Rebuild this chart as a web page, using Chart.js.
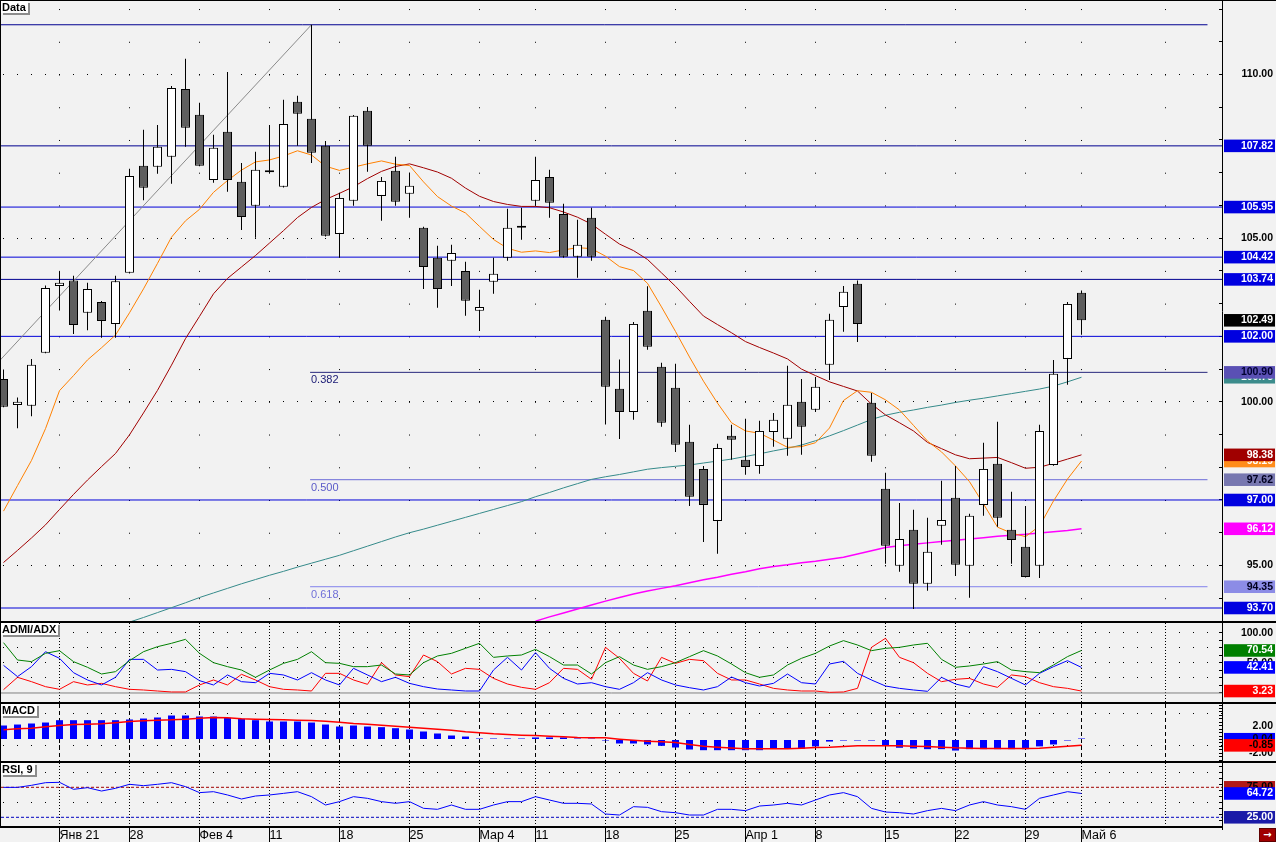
<!DOCTYPE html>
<html lang="ru">
<head>
<meta charset="utf-8">
<title>Data</title>
<script src="https://cdn.jsdelivr.net/npm/chart.js@4.4.1/dist/chart.umd.min.js"></script>
<style>
html,body{margin:0;padding:0;}
body{width:1276px;height:842px;background:#f2f2f2;position:relative;overflow:hidden;font-family:"Liberation Sans",Arial,sans-serif;}
canvas.pane{position:absolute;left:0;}
.hl{position:absolute;background:#000;}
.title{position:absolute;background:#fff;color:#000;font:bold 11px "Liberation Sans",Arial,sans-serif;line-height:12px;height:12px;padding:0 2px 0 1px;box-shadow:2px 2px 0 #8c8c8c;white-space:nowrap;}
.icon{position:absolute;left:1259px;top:828px;width:15px;height:12px;background:#a00000;border:1px solid #600000;color:#fff;font:bold 10px "DejaVu Sans",sans-serif;line-height:12px;text-align:center;}
</style>
</head>
<body>
<canvas id="cMain" class="pane" width="1276" height="622" style="top:0"></canvas>
<canvas id="cAdx" class="pane" width="1276" height="81" style="top:622px"></canvas>
<canvas id="cMacd" class="pane" width="1276" height="59" style="top:703px"></canvas>
<canvas id="cRsi" class="pane" width="1276" height="80" style="top:762px"></canvas>
<div class="hl" style="left:0;top:0;width:1276px;height:1px"></div>
<div class="hl" style="left:0;top:0;width:1px;height:828px"></div>
<div class="hl" style="left:0;top:621px;width:1276px;height:2px"></div>
<div class="hl" style="left:0;top:702px;width:1276px;height:2px"></div>
<div class="hl" style="left:0;top:761px;width:1276px;height:2px"></div>
<div class="hl" style="left:0;top:826px;width:1223px;height:2px"></div>
<div class="hl" style="left:1222px;top:826px;width:1px;height:4px"></div>
<div class="title" style="left:1px;top:1px">Data</div>
<div class="title" style="left:1px;top:623px">ADMI/ADX</div>
<div class="title" style="left:1px;top:704px">MACD</div>
<div class="title" style="left:1px;top:763px">RSI, 9</div>
<div class="icon">&#8594;</div>
<script>
// ---------------- data ----------------
const dates = [
'2013-01-15','2013-01-16','2013-01-17','2013-01-18','2013-01-21','2013-01-22','2013-01-23','2013-01-24','2013-01-25',
'2013-01-28','2013-01-29','2013-01-30','2013-01-31','2013-02-01',
'2013-02-04','2013-02-05','2013-02-06','2013-02-07','2013-02-08',
'2013-02-11','2013-02-12','2013-02-13','2013-02-14','2013-02-15',
'2013-02-18','2013-02-19','2013-02-20','2013-02-21','2013-02-22',
'2013-02-25','2013-02-26','2013-02-27','2013-02-28','2013-03-01',
'2013-03-04','2013-03-05','2013-03-06','2013-03-07',
'2013-03-11','2013-03-12','2013-03-13','2013-03-14','2013-03-15',
'2013-03-18','2013-03-19','2013-03-20','2013-03-21','2013-03-22',
'2013-03-25','2013-03-26','2013-03-27','2013-03-28','2013-03-29',
'2013-04-01','2013-04-02','2013-04-03','2013-04-04','2013-04-05',
'2013-04-08','2013-04-09','2013-04-10','2013-04-11','2013-04-12',
'2013-04-15','2013-04-16','2013-04-17','2013-04-18','2013-04-19',
'2013-04-22','2013-04-23','2013-04-24','2013-04-25','2013-04-26',
'2013-04-29','2013-04-30','2013-05-02','2013-05-03',
'2013-05-06'];

const open = [
100.70,99.90,99.88,101.50,103.54,103.71,102.72,103.05,102.38,103.94,
107.21,107.18,107.49,109.56,108.77,106.78,108.25,106.72,105.99,107.03,
106.57,109.17,108.65,107.82,105.13,106.14,108.89,106.29,107.06,106.36,
105.32,104.40,104.31,104.00,102.78,103.67,104.40,105.34,106.14,106.87,
105.74,104.43,105.62,102.51,100.40,99.69,102.78,101.07,100.43,98.78,
97.95,96.36,98.96,98.23,98.04,99.08,98.87,100.00,99.76,101.13,
102.90,103.61,99.97,97.34,94.99,96.09,94.44,96.21,97.07,94.99,
96.85,98.11,96.09,95.57,94.99,98.07,101.31,103.33];
const high = [
100.99,100.13,101.31,103.55,103.98,103.85,103.64,103.08,103.85,107.12,
108.31,108.46,109.65,110.48,109.14,108.16,110.08,107.30,107.64,108.46,
109.23,109.35,111.52,107.97,106.39,108.76,109.01,106.87,107.49,107.00,
105.35,104.77,104.80,104.28,103.42,104.40,105.90,105.93,107.49,107.09,
106.05,105.56,105.93,102.60,101.29,102.44,103.53,101.19,101.16,99.30,
98.04,98.72,99.30,99.48,99.42,99.66,101.10,100.70,100.76,102.69,
103.54,103.71,100.27,97.83,96.91,96.70,96.46,97.59,98.04,96.58,
98.75,99.39,97.25,96.82,99.30,101.28,103.05,103.40];
const low = [
99.83,99.19,99.56,101.48,102.79,102.07,102.19,101.96,101.96,103.92,
106.16,106.97,106.66,107.79,107.20,106.69,106.42,105.25,105.01,106.99,
106.55,107.82,107.30,105.05,104.40,105.99,107.03,105.53,105.99,105.62,
103.45,102.87,103.54,102.63,102.16,103.30,104.31,104.95,105.99,105.62,
104.40,103.79,104.31,99.31,98.86,99.45,101.59,99.24,98.47,96.82,
95.72,95.36,98.23,97.77,97.80,98.63,98.35,98.38,99.69,100.67,
102.14,101.83,98.17,95.05,94.81,93.67,94.23,95.63,94.68,94.01,
96.52,96.18,95.05,94.63,94.62,98.05,100.52,102.05];
const close = [
99.85,100.00,101.13,103.48,103.64,102.35,103.45,102.47,103.68,106.90,
106.54,107.79,109.59,108.37,107.21,107.76,106.78,105.65,107.09,107.01,
108.49,108.80,107.61,105.07,106.23,108.74,107.82,106.75,106.11,106.60,
104.12,103.45,104.55,103.09,102.90,103.91,105.32,105.32,106.78,106.08,
104.43,104.80,104.43,100.46,99.69,102.38,101.68,99.36,98.69,97.10,
96.85,98.59,98.84,98.01,99.11,99.45,99.91,99.24,100.46,102.51,
103.36,102.38,98.35,95.60,95.81,94.44,95.42,96.39,95.02,96.52,
97.95,96.46,95.78,94.65,99.11,100.86,102.99,102.49];

// moving averages
const maOrange = [
96.66,97.44,98.21,99.18,100.34,100.80,101.28,101.65,102.04,102.72,
103.45,104.23,105.03,105.53,105.88,106.40,106.76,107.08,107.33,107.39,
107.51,107.67,107.54,107.20,107.07,107.17,107.27,107.36,107.26,107.22,
106.72,106.27,105.98,105.77,105.36,104.96,104.69,104.57,104.61,104.56,
104.64,104.71,104.68,104.45,104.13,104.01,103.62,102.90,102.15,101.37,
100.63,99.96,99.36,99.11,99.04,98.83,98.61,98.63,98.75,99.20,
100.04,100.34,100.29,100.06,99.75,99.28,98.80,98.47,98.04,97.56,
96.88,96.17,95.99,95.88,96.20,96.97,97.64,98.19];
const maRed = [
95.09,95.46,95.84,96.24,96.71,97.17,97.61,98.02,98.42,98.99,
99.66,100.35,101.12,101.93,102.61,103.30,103.77,104.12,104.47,104.85,
105.23,105.63,105.94,106.18,106.37,106.57,106.82,107.04,107.19,107.27,
107.15,107.02,106.83,106.53,106.28,106.12,106.03,105.97,105.97,105.93,
105.80,105.64,105.43,105.12,104.82,104.62,104.35,103.94,103.53,103.07,
102.62,102.36,102.11,101.84,101.66,101.49,101.31,101.00,100.80,100.61,
100.47,100.33,99.93,99.60,99.36,99.11,98.76,98.57,98.38,98.26,
98.28,98.30,98.14,97.97,98.00,98.12,98.25,98.38];
const maTeal = [
null,null,null,null,null,null,null,null,null,93.27,
93.41,93.56,93.71,93.86,94.02,94.16,94.30,94.44,94.57,94.70,
94.82,94.95,95.07,95.19,95.31,95.45,95.59,95.73,95.87,96.00,
96.11,96.23,96.35,96.47,96.59,96.71,96.83,96.95,97.10,97.23,
97.37,97.50,97.63,97.71,97.78,97.86,97.94,97.99,98.03,98.07,
98.13,98.19,98.25,98.33,98.41,98.50,98.58,98.68,98.81,98.96,
99.12,99.29,99.46,99.59,99.68,99.75,99.83,99.90,99.98,100.05,
100.11,100.18,100.25,100.32,100.39,100.48,100.61,100.75];
const maMagenta = [
null,null,null,null,null,null,null,null,null,null,
null,null,null,null,null,null,null,null,null,null,
null,null,null,null,null,null,null,null,null,null,
null,null,null,null,null,null,null,null,93.30,93.43,
93.55,93.67,93.79,93.91,94.02,94.13,94.22,94.30,94.38,94.47,
94.56,94.64,94.73,94.81,94.90,94.97,95.02,95.08,95.13,95.19,
95.25,95.35,95.45,95.55,95.60,95.65,95.69,95.73,95.77,95.81,
95.85,95.89,95.92,95.95,95.99,96.03,96.07,96.12];

// trend line (x in candle slots, y in price)
const trendX = [-0.25, 22];
const trendY = [101.27, 111.52];

// horizontal levels
const levelValues = [111.52, 107.82, 105.95, 104.42, 103.74, 102.00, 97.00, 93.70];
const levelEnds   = [86.0, null, null, null, null, null, null, null];
const fibValues = [100.90, 97.62, 94.35];
const fibNames  = ['0.382', '0.500', '0.618'];
const fibStart = 21.9, fibEnd = 86.0;

// indicators
const adx = [
83.5,54.7,52.0,65.8,70.2,52.0,42.6,31.5,35.4,53.6,
68.5,76.8,82.4,89.0,65.8,50.3,43.7,38.1,26.0,38.1,
49.2,55.8,68.5,50.3,49.2,43.7,43.7,46.4,31.5,29.9,
50.3,61.4,65.8,74.1,82.4,59.1,61.4,63.0,72.4,60.3,
46.4,46.4,31.5,50.3,60.3,46.4,39.2,43.7,50.3,60.3,
70.2,61.4,48.1,33.7,26.0,29.9,46.4,57.5,65.8,77.9,
86.8,79.6,70.2,74.1,75.7,79.6,82.4,55.8,42.6,44.8,
48.1,52.0,38.1,35.4,33.7,46.4,60.3,70.54];
const plusDI = [
45.9,27.1,43.7,68.5,57.5,33.7,21.6,13.3,26.0,55.8,
55.8,38.1,39.2,35.4,20.5,13.3,29.9,18.8,17.1,32.6,
29.9,21.6,33.7,21.6,13.3,40.9,29.9,18.8,26.0,16.0,
10.5,6.6,5.0,3.3,3.3,38.1,59.1,38.1,66.9,40.9,
24.3,14.9,17.1,10.5,6.1,17.1,33.7,21.6,13.3,8.8,
5.0,10.5,26.5,17.1,11.6,16.0,31.5,17.1,14.9,48.1,
52.5,32.6,21.6,11.6,7.7,5.0,2.8,26.0,14.9,9.4,
43.7,35.4,24.3,13.3,32.6,43.7,53.6,42.41];
const minusDI = [
5.5,26.0,18.8,10.5,6.1,18.8,13.3,16.0,10.5,6.1,
5.0,3.3,1.7,1.7,13.3,21.6,13.3,31.0,21.6,10.5,
6.1,5.0,3.3,32.6,32.6,21.6,14.4,50.3,29.9,27.1,
63.0,52.0,31.5,40.9,39.2,24.3,14.9,9.4,6.1,17.1,
40.9,39.2,22.7,75.7,57.5,32.6,19.9,59.1,49.2,55.8,
53.6,32.6,21.6,21.6,14.9,7.7,5.0,3.3,3.3,1.1,
1.7,7.7,75.7,90.7,59.1,50.3,32.6,18.8,22.7,24.3,
14.9,9.4,29.9,27.1,17.1,10.5,7.7,3.23];
const adxBase = [0];

const macdHist = [
2.03,2.17,2.32,2.46,2.80,2.80,2.80,2.80,2.80,2.90,
3.04,3.19,3.48,3.48,3.33,3.33,3.14,3.00,2.80,2.61,
2.61,2.61,2.46,2.17,1.88,2.03,1.88,1.79,1.64,1.45,
1.16,0.87,0.58,0.43,0.05,0.05,0.03,0.02,0.30,0.30,
0.30,0.05,0.02,-0.03,-0.58,-0.58,-0.72,-0.92,-1.16,-1.45,
-1.55,-1.55,-1.55,-1.55,-1.55,-1.35,-1.35,-1.35,-1.00,-0.30,
-0.15,-0.10,-0.15,-0.95,-1.20,-1.30,-1.40,-1.40,-1.60,-1.40,
-1.40,-1.40,-1.40,-1.40,-1.00,-0.72,-0.05,0.04];
const macdSignal = [
1.40,1.55,1.64,1.84,2.03,2.17,2.22,2.27,2.42,2.61,
2.71,2.80,2.85,2.95,3.09,3.19,3.14,3.00,2.95,2.90,
2.85,2.80,2.75,2.66,2.51,2.32,2.22,2.05,1.92,1.79,
1.64,1.50,1.35,1.11,0.97,0.82,0.72,0.63,0.58,0.48,
0.39,0.29,0.24,0.24,0.05,-0.10,-0.24,-0.34,-0.43,-0.72,
-0.97,-1.11,-1.24,-1.35,-1.35,-1.35,-1.35,-1.26,-1.16,-1.11,
-1.01,-0.92,-0.92,-0.92,-0.92,-0.97,-1.01,-1.11,-1.21,-1.26,
-1.30,-1.30,-1.30,-1.30,-1.26,-1.11,-0.97,-0.85];

const rsi = [
74.9,74.9,78.3,82.7,83.3,71.6,74.4,68.8,73.3,80.0,
77.7,80.0,82.7,76.1,66.1,67.7,62.2,55.5,60.5,62.2,
64.9,67.7,59.4,45.5,51.1,59.4,56.6,51.1,48.3,51.1,
40.0,38.3,45.5,38.3,38.3,45.5,51.1,51.1,59.4,53.8,
48.3,48.3,47.2,30.5,28.8,42.7,41.6,34.4,32.7,28.8,
28.8,38.3,38.3,36.1,43.8,45.5,48.3,45.5,53.8,62.2,
66.1,59.4,39.9,33.8,32.7,30.5,36.1,39.9,36.1,45.5,
51.1,45.5,42.7,38.3,56.6,62.2,67.7,64.72];
const rsiLevels = [75, 25];

// axis labels
const weekDates = ['2013-01-21','2013-01-28','2013-02-04','2013-02-11','2013-02-18','2013-02-25','2013-03-04','2013-03-11','2013-03-18','2013-03-25','2013-04-01','2013-04-08','2013-04-15','2013-04-22','2013-04-29','2013-05-06'];
const weekLabels = ['Янв 21','28','Фев 4','11','18','25','Мар 4','11','18','25','Апр 1','8','15','22','29','Май 6'];
const priceLabeled = [95, 100, 105, 110];
const mainBoxValues = [107.82, 105.95, 104.42, 103.74, 102.00, 102.49, 100.75, 100.90, 98.19, 98.38, 97.62, 97.00, 96.12, 94.35, 93.70];
const adxLabeled = [100, 50];
const adxBoxValues = [70.54, 42.41, 3.23];
const macdLabeled = [2, -2];
const macdBoxValues = [0.04, -0.85];
const rsiBoxValues = [75.00, 64.72, 25.00];

// ---------------- styles ----------------
const mainBoxBg = ['#0000e0','#0000e0','#0000e0','#0000e0','#0000e0','#000000','#3c8c8c','#5a50b4','#ff8c1a','#a00000','#7878b0','#0000e0','#ff00ff','#8c8ce6','#0000e0'];
const mainBoxFg = ['#fff','#fff','#fff','#fff','#fff','#fff','#fff','#000030','#fff','#fff','#000020','#fff','#fff','#000020','#fff'];
const adxBoxBg = ['#008000','#0000ff','#ff0000'];
const adxBoxFg = ['#fff','#fff','#fff'];
const macdBoxBg = ['#0000ff','#ff0000'];
const macdBoxFg = ['#000','#000'];
const rsiBoxBg = ['#b01818','#0000ff','#1a1aa8'];
const rsiBoxFg = ['#000','#fff','#fff'];
const levelColors = ['#000090','#000090','#0000d8','#0000d8','#000090','#0000d8','#0000d8','#0000d8'];
const fibColors = ['#28287c','#6a6ad8','#8282ec'];
const fibTextColors = ['#202078','#5a5ac8','#7070d8'];

const FONT_FAMILY = '"Liberation Sans", Arial, sans-serif';
const TICK_FONT = {family: FONT_FAMILY, size: 10.5, weight: 'bold', lineHeight: 1.1};
const X_MIN = -0.1786, X_MAX = 87.036;

const idx = dates.map((_, i) => i);
const gridIdx = weekDates.map(d => dates.indexOf(d)).concat([dates.length + 5]);
const pts = arr => arr.map((v, i) => (v === null ? null : {x: i, y: v})).filter(p => p !== null);
const hline = (v, x0, x1) => [{x: x0, y: v}, {x: x1, y: v}];

const mctx = document.createElement('canvas').getContext('2d');
mctx.font = 'bold 10.5px ' + FONT_FAMILY;
function boxPad(txt) {
  const w = mctx.measureText(txt).width;
  return {left: Math.max(0, 49 - w), right: 2, top: 0.5, bottom: 0.5};
}

function range(a, b, step) { const r = []; for (let v = a; v <= b + 1e-9; v += step) r.push(+v.toFixed(4)); return r; }

// right axis: ruler ticks + plain labels
function rightAxis(min, max, regular, labeled) {
  return {
    type: 'linear', position: 'right', min, max, bounds: 'data', weight: 0,
    afterBuildTicks: s => { s.ticks = regular.map(v => ({value: v})); },
    afterFit: s => { s.width = 51; s.paddingTop = 0; s.paddingBottom = 0; },
    border: {display: true, color: '#000', width: 1},
    grid: {drawOnChartArea: false, drawTicks: true, tickLength: -3, tickWidth: 1, tickColor: '#000', tickBorderDash: []},
    ticks: {
      autoSkip: false, crossAlign: 'far', padding: 0, font: TICK_FONT, color: '#000',
      callback: (v, i) => (labeled.indexOf(regular[i]) >= 0 ? regular[i].toFixed(2) : '')
    }
  };
}
// one zero-width axis per value box, placed at the outer edge; mirrored labels are right-aligned there
function boxAxis(min, max, value, bg, fg, weight) {
  const txt = value.toFixed(2);
  return {
    type: 'linear', position: 'right', min, max, bounds: 'data', weight,
    afterBuildTicks: s => { s.ticks = [{value}]; },
    afterFit: s => { s.width = 0; s.paddingTop = 0; s.paddingBottom = 0; },
    border: {display: false},
    grid: {display: false},
    ticks: {autoSkip: false, mirror: true, crossAlign: 'near', padding: 0, font: TICK_FONT, color: fg,
      callback: () => txt, showLabelBackdrop: true, backdropColor: bg, backdropPadding: boxPad(txt)}
  };
}
function addBoxAxes(scales, min, max, vals, bgs, fgs) {
  vals.forEach((v, i) => { scales['box' + i] = boxAxis(min, max, v, bgs[i], fgs[i], i + 1); });
  return scales;
}

function gridAxisY(min, max, values) {
  return {
    type: 'linear', position: 'left', min, max, bounds: 'data', display: true,
    afterBuildTicks: s => { s.ticks = values.map(v => ({value: v})); },
    afterFit: s => { s.width = 0; s.paddingTop = 0; s.paddingBottom = 0; },
    ticks: {display: false},
    grid: {drawTicks: false, color: '#000', lineWidth: 1, borderDash: [1, 13], borderDashOffset: 12},
    border: {display: false, dash: [1, 13], dashOffset: 12}
  };
}

function xAxis(dash, dashOffset, withLabels) {
  return {
    type: 'linear', position: 'bottom', min: X_MIN, max: X_MAX, bounds: 'data', offset: false,
    afterBuildTicks: s => { s.ticks = gridIdx.map(v => ({value: v})); },
    afterFit: s => { s.height = withLabels ? 16 : 0; s.paddingLeft = 0; s.paddingRight = 0; },
    grid: {offset: false, color: '#000', lineWidth: 1, drawTicks: withLabels, tickLength: 16,
      tickColor: c => ((withLabels && c.index < weekLabels.length) ? '#000' : 'rgba(0,0,0,0)'),
      tickWidth: 1, tickBorderDash: [], borderDash: dash, borderDashOffset: dashOffset},
    border: {display: false, dash: dash, dashOffset: dashOffset},
    ticks: {display: withLabels, autoSkip: false, maxRotation: 0, minRotation: 0, align: 'start', padding: -14,
      color: '#000', font: {family: FONT_FAMILY, size: 12.5, lineHeight: 1.2},
      callback: (v, i) => (i < weekLabels.length ? weekLabels[i] : '')}
  };
}

const lineDs = (data, color, width, extra) => Object.assign({
  type: 'line', data, borderColor: color, borderWidth: width, pointRadius: 0, fill: false, tension: 0,
  xAxisID: 'x', yAxisID: 'y'}, extra || {});

const baseOptions = (padding, scales) => ({
  responsive: false, animation: false, events: [],
  layout: {padding, autoPadding: false},
  plugins: {legend: {display: false}, tooltip: {enabled: false}},
  scales
});

// ---------------- main chart ----------------
const MAIN_MIN = 93.303, MAIN_MAX = 112.246;
const bodyColors = close.map((c, i) => (c >= open[i] ? '#ffffff' : '#5e5e5e'));

const fibLabelPlugin = {
  id: 'fibLabels',
  afterDatasetsDraw(chart) {
    const {ctx, scales} = chart;
    ctx.save();
    ctx.font = '11px ' + FONT_FAMILY;
    ctx.textBaseline = 'top';
    ctx.textAlign = 'left';
    fibValues.forEach((v, i) => {
      ctx.fillStyle = fibTextColors[i];
      ctx.fillText(fibNames[i], Math.round(scales.x.getPixelForValue(fibStart)) + 1, Math.round(scales.y.getPixelForValue(v)) + 2);
    });
    ctx.restore();
  }
};

const mainDatasets = [
  {type: 'bar', data: idx.map(i => ({x: i, y: [open[i], close[i]]})), backgroundColor: bodyColors,
   borderColor: '#000', borderWidth: 1, borderSkipped: false, barThickness: 9, grouped: false,
   minBarLength: 2, inflateAmount: 0, xAxisID: 'x', yAxisID: 'y'},
  {type: 'bar', data: idx.map(i => ({x: i, y: [low[i], high[i]]})), backgroundColor: '#000',
   borderWidth: 0, barThickness: 1, grouped: false, inflateAmount: 0, xAxisID: 'x', yAxisID: 'y'},
  lineDs(trendX.map((x, i) => ({x, y: trendY[i]})), '#8a8a8a', 1),
  lineDs(pts(maOrange), '#ff8000', 1),
  lineDs(pts(maRed), '#a00000', 1),
  lineDs(pts(maTeal), '#358a8a', 1),
  lineDs(pts(maMagenta), '#ff00ff', 1.5)
];
levelValues.forEach((v, i) => mainDatasets.push(lineDs(hline(v, X_MIN, levelEnds[i] === null ? X_MAX : levelEnds[i]), levelColors[i], 1)));
fibValues.forEach((v, i) => mainDatasets.push(lineDs(hline(v, fibStart, fibEnd), fibColors[i], 1)));

new Chart(document.getElementById('cMain'), {
  type: 'line',
  data: {datasets: mainDatasets},
  options: baseOptions({left: 1, right: 3, top: 1, bottom: 1}, addBoxAxes({
    x: xAxis([1, 31.73], 24.68, false),
    y: rightAxis(MAIN_MIN, MAIN_MAX, range(94, 112, 1), priceLabeled),
    yg: gridAxisY(MAIN_MIN, MAIN_MAX, [95, 100, 105, 110])
  }, MAIN_MIN, MAIN_MAX, mainBoxValues, mainBoxBg, mainBoxFg)),
  plugins: [fibLabelPlugin]
});

// ---------------- ADMI/ADX ----------------
const ADX_MIN = -14.93, ADX_MAX = 116.08;
new Chart(document.getElementById('cAdx'), {
  type: 'line',
  data: {datasets: [
    lineDs(pts(adx), '#008000', 1),
    lineDs(pts(plusDI), '#0000ff', 1),
    lineDs(pts(minusDI), '#ff0000', 1),
    lineDs(hline(adxBase[0], X_MIN, X_MAX), '#808080', 1)
  ]},
  options: baseOptions({left: 1, right: 3, top: 1, bottom: 1}, addBoxAxes({
    x: xAxis([1, 2], 0, false),
    y: rightAxis(ADX_MIN, ADX_MAX, range(0, 100, 12.5), adxLabeled),
    yg: gridAxisY(ADX_MIN, ADX_MAX, [25, 50, 75, 100])
  }, ADX_MIN, ADX_MAX, adxBoxValues, adxBoxBg, adxBoxFg))
});

// ---------------- MACD ----------------
const MACD_MIN = -3.116, MACD_MAX = 5.145;
new Chart(document.getElementById('cMacd'), {
  type: 'line',
  data: {datasets: [
    lineDs(pts(macdSignal), '#ff0000', 1.5),
    {type: 'bar', data: pts(macdHist), backgroundColor: '#0000ff', borderWidth: 0, barThickness: 7,
     grouped: false, minBarLength: 1, inflateAmount: 0, xAxisID: 'x', yAxisID: 'y'}
  ]},
  options: baseOptions({left: 1, right: 3, top: 1, bottom: 1}, addBoxAxes({
    x: xAxis([4, 3], 0, false),
    y: rightAxis(MACD_MIN, MACD_MAX, range(-3, 5, 0.5), macdLabeled),
    yg: gridAxisY(MACD_MIN, MACD_MAX, [3.8, -0.94])
  }, MACD_MIN, MACD_MAX, macdBoxValues, macdBoxBg, macdBoxFg))
});

// ---------------- RSI ----------------
const RSI_MIN = 10.5, RSI_MAX = 115.5;
new Chart(document.getElementById('cRsi'), {
  type: 'line',
  data: {datasets: [
    lineDs(pts(rsi), '#0000ff', 1),
    lineDs(hline(rsiLevels[0], X_MIN, X_MAX), '#a00000', 1, {borderDash: [3, 2]}),
    lineDs(hline(rsiLevels[1], X_MIN, X_MAX), '#0000c0', 1, {borderDash: [3, 2]})
  ]},
  options: baseOptions({left: 1, right: 3, top: 1, bottom: 0}, addBoxAxes({
    x: xAxis([1, 2], 0, true),
    y: rightAxis(RSI_MIN, RSI_MAX, range(20, 110, 10), []),
    yg: gridAxisY(RSI_MIN, RSI_MAX, [50, 100])
  }, RSI_MIN, RSI_MAX, rsiBoxValues, rsiBoxBg, rsiBoxFg))
});
</script>
</body>
</html>
